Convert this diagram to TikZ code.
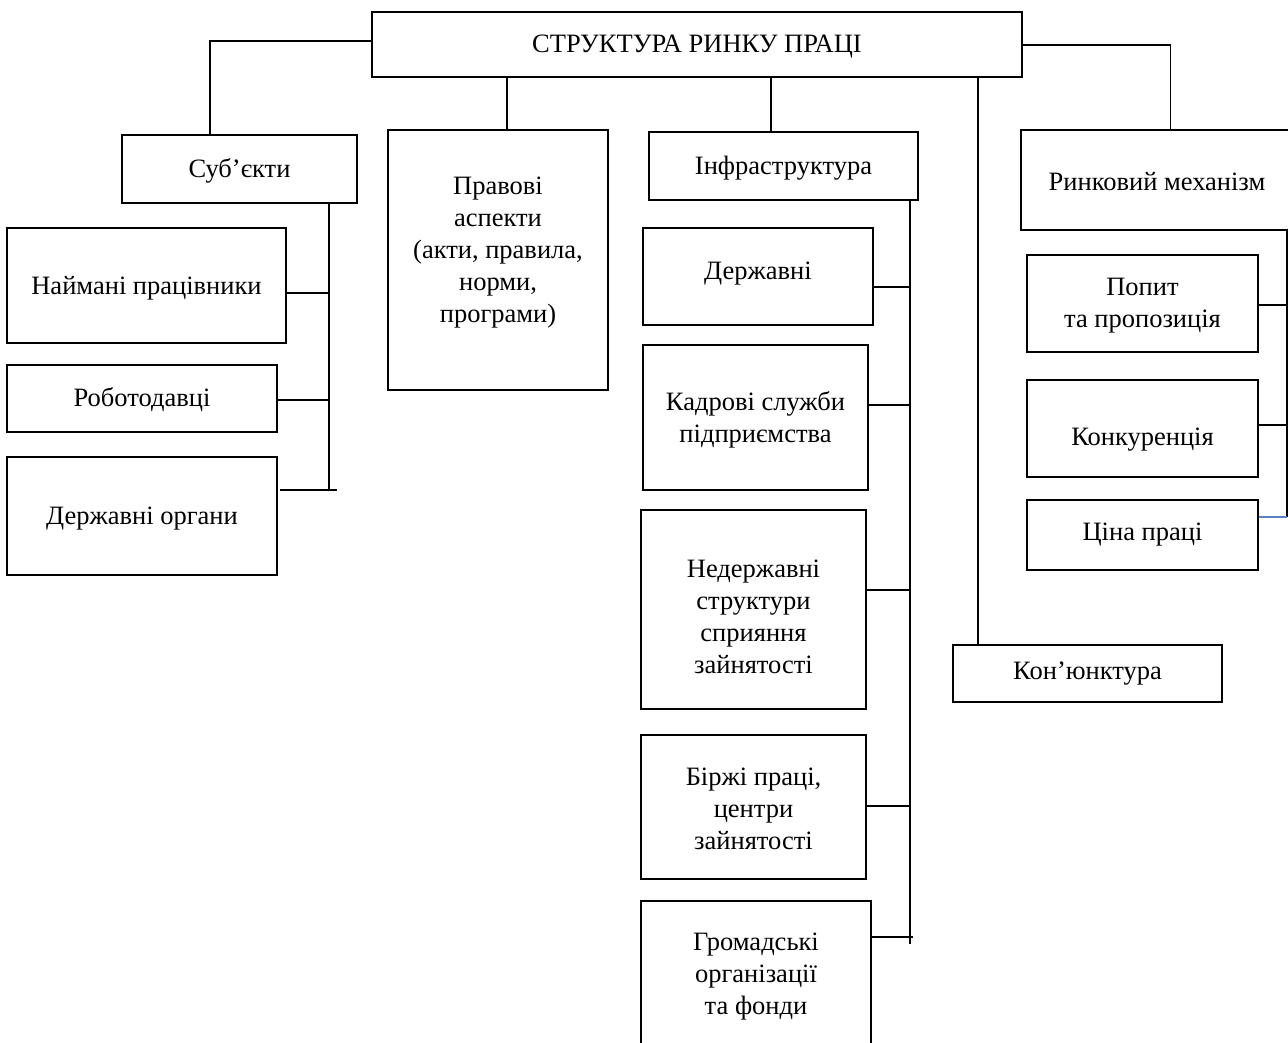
\documentclass[tikz,border=0pt]{standalone}
\usepackage{fontspec}
\setmainfont{Liberation Serif}
\definecolor{linkblue}{RGB}{91,130,200}
\begin{document}
\begin{tikzpicture}[x=1pt,y=-1pt,
  bx/.style={draw, line width=1.4pt, inner sep=0pt, align=center, font=\fontsize{26.5}{32}\selectfont},
  txt/.style={inner sep=0pt, align=center, font=\fontsize{26.5}{32}\selectfont},
  conn/.style={line width=1.4pt}]
\useasboundingbox (0,0) rectangle (1288,1043);
\clip (0,0) rectangle (1288,1043);
% top
\node[bx, minimum width=650, minimum height=65] (top) at (697,44.5) {};
\node[txt] (topt) at (697,46.5) {СТРУКТУРА РИНКУ ПРАЦІ};
% subjects
\node[bx, minimum width=235, minimum height=68] (sub) at (239.5,169) {};
\node[txt] (subt) at (239.5,171) {Суб’єкти};
\node[bx, minimum width=279, minimum height=115] (naim) at (146.5,285.5) {};
\node[txt] (naimt) at (146.5,288) {Наймані працівники};
\node[bx, minimum width=270, minimum height=67] (rob) at (142,398.5) {};
\node[txt] (robt) at (142,400) {Роботодавці};
\node[bx, minimum width=270, minimum height=118] (dorg) at (142,516) {};
\node[txt] (dorgt) at (142,519) {Державні органи};
% legal
\node[bx, minimum width=220, minimum height=260] (pr) at (498,260) {};
\node[txt] (prt) at (498,253) {Правові\\аспекти\\(акти, правила,\\норми,\\програми)};
% infrastructure
\node[bx, minimum width=269, minimum height=68] (inf) at (783.5,166) {};
\node[txt] (inft) at (783.5,168) {Інфраструктура};
\node[bx, minimum width=230, minimum height=97] (dz) at (758,276.5) {};
\node[txt] (dzt) at (758,273.5) {Державні};
\node[bx, minimum width=225, minimum height=145] (kad) at (755.5,417.5) {};
\node[txt] (kadt) at (755.5,419.5) {Кадрові служби\\підприємства};
\node[bx, minimum width=225, minimum height=199] (ned) at (753.5,609.5) {};
\node[txt] (nedt) at (753.5,617) {Недержавні\\структури\\сприяння\\зайнятості};
\node[bx, minimum width=225, minimum height=144] (bir) at (753.5,807) {};
\node[txt] (birt) at (753.5,809) {Біржі праці,\\центри\\зайнятості};
\node[bx, minimum width=230, minimum height=149] (grom) at (756,975.5) {};
\node[txt] (gromt) at (756,977) {Громадські\\організації\\та фонди};
% conjuncture
\node[bx, minimum width=269, minimum height=57] (kon) at (1087.5,673.5) {};
\node[txt] (kont) at (1087.5,673.5) {Кон’юнктура};
% market mechanism
\node[bx, minimum width=299, minimum height=100] (rm) at (1170.5,180) {};
\node[txt] (rmt) at (1157,182) {Ринковий механізм};
\node[bx, minimum width=231, minimum height=97] (pop) at (1142.5,303.5) {};
\node[txt] (popt) at (1142.5,305.5) {Попит\\та пропозиція};
\node[bx, minimum width=231, minimum height=97] (konk) at (1142.5,428.5) {};
\node[txt] (konkt) at (1142.5,439.5) {Конкуренція};
\node[bx, minimum width=231, minimum height=70] (cina) at (1142.5,535) {};
\node[txt] (cinat) at (1142.5,535) {Ціна праці};
% connectors from top
\draw[conn] (top.west |- 0,41) -| ([xshift=-29.5pt]sub.north);
\draw[conn] (pr.north -| 507,0) -- (top.south -| 507,0);
\draw[conn] (inf.north -| 771,0) -- (top.south -| 771,0);
\draw[conn] (kon.north -| 978,0) -- (top.south -| 978,0);
\draw[conn] (top.east |- 0,45) -| (rm.north);
% subjects bus
\coordinate (sbb) at (329,490);
\draw[conn] (sub.south -| sbb) -- (sbb);
\draw[conn] (naim.east |- 0,293) -- (sbb |- 0,293);
\draw[conn] (rob.east |- 0,400) -- (sbb |- 0,400);
\draw[conn] ([xshift=2pt]dorg.east |- 0,490) -- ([xshift=8pt]sbb);
% infrastructure bus
\coordinate (ib) at (910,944);
\draw[conn] (inf.south -| ib) -- (ib);
\draw[conn] (dz.east |- 0,287) -- (ib |- 0,287);
\draw[conn] (kad.east |- 0,405) -- (ib |- 0,405);
\draw[conn] (ned.east |- 0,590) -- (ib |- 0,590);
\draw[conn] (bir.east |- 0,806) -- (ib |- 0,806);
\draw[conn] (grom.east |- 0,937) -- ([xshift=3pt]ib |- 0,937);
% market bus
\coordinate (rb) at (1287,517);
\draw[conn] (rm.south -| rb) -- (rb);
\draw[conn] (pop.east |- 0,305) -- (rb |- 0,305);
\draw[conn] (konk.east |- 0,425) -- (rb |- 0,425);
\draw[conn, linkblue] (cina.east |- 0,517) -- (rb);
\end{tikzpicture}
\end{document}
